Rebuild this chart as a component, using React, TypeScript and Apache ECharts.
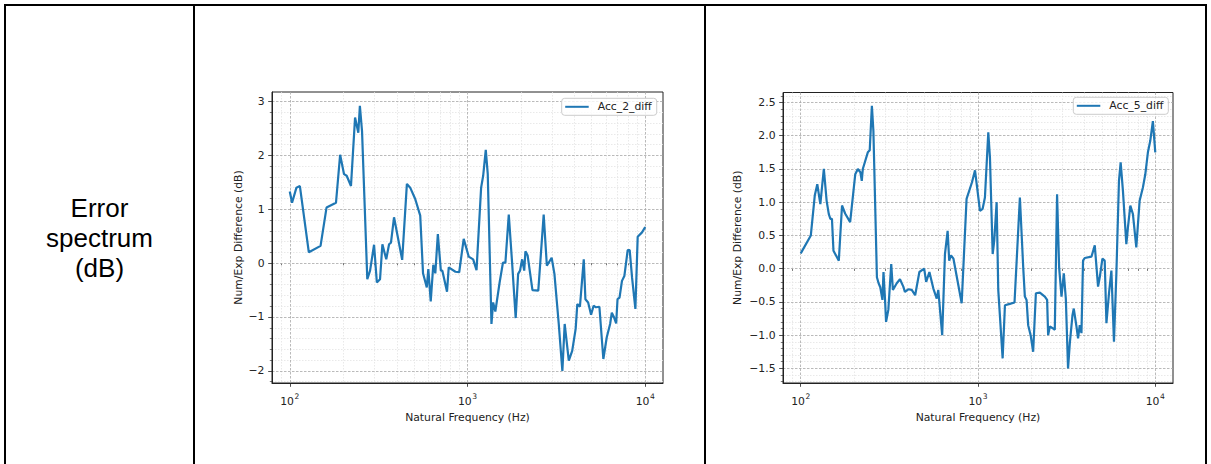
import React, { useEffect, useRef } from "react";
import * as echarts from "echarts";

// ---------- data ----------
const rowLabelLines = ["Error", "spectrum", "(dB)"];
const seriesNames = ["Acc_2_diff", "Acc_5_diff"];
const xTitle = "Natural Frequency (Hz)";
const yTitle = "Num/Exp Difference (dB)";

const xMajorTicks = [100, 1000, 10000];
const xMajorBase = ["10", "10", "10"];
const xMajorExp = ["2", "3", "4"];
const xMinorTicks = [80, 90, 200, 300, 400, 500, 600, 700, 800, 900, 2000, 3000, 4000, 5000, 6000, 7000, 8000, 9000];

const yMajorTicks2 = [-2, -1, 0, 1, 2, 3];
const yMajorLabels2 = ["−2", "−1", "0", "1", "2", "3"];
const yMinorTicks2 = [-2.2, -1.8, -1.6, -1.4, -1.2, -0.8, -0.6, -0.4, -0.2, 0.2, 0.4, 0.6, 0.8, 1.2, 1.4, 1.6, 1.8, 2.2, 2.4, 2.6, 2.8];

const yMajorTicks5 = [-1.5, -1, -0.5, 0, 0.5, 1, 1.5, 2, 2.5];
const yMajorLabels5 = ["−1.5", "−1.0", "−0.5", "0.0", "0.5", "1.0", "1.5", "2.0", "2.5"];
const yMinorTicks5 = [-1.7, -1.6, -1.4, -1.3, -1.2, -1.1, -0.9, -0.8, -0.7, -0.6, -0.4, -0.3, -0.2, -0.1, 0.1, 0.2, 0.3, 0.4, 0.6, 0.7, 0.8, 0.9, 1.1, 1.2, 1.3, 1.4, 1.6, 1.7, 1.8, 1.9, 2.1, 2.2, 2.3, 2.4, 2.6];

const freqAcc2 = [100, 103, 109, 114, 128, 149, 161, 182, 192, 202, 209, 221, 233, 243, 248, 255, 273, 283, 298, 309, 322, 332, 349, 362, 371, 386, 429, 456, 476, 508, 542, 562, 590, 602, 621, 642, 659, 681, 708, 722, 767, 784, 855, 898, 952, 1016, 1076, 1124, 1193, 1225, 1267, 1300, 1364, 1394, 1434, 1516, 1583, 1634, 1707, 1782, 1867, 1927, 1975, 2030, 2085, 2118, 2180, 2320, 2502, 2683, 2796, 2975, 3084, 3262, 3418, 3522, 3715, 3882, 4060, 4148, 4290, 4510, 4607, 4773, 4958, 5123, 5279, 5522, 5812, 6072, 6345, 6485, 6683, 6862, 6984, 7168, 7399, 7630, 7967, 8177, 8432, 8803, 9069, 9592, 10000];
const diffAcc2 = [1.33, 1.12, 1.40, 1.43, 0.20, 0.32, 1.03, 1.12, 2.01, 1.65, 1.62, 1.43, 2.70, 2.42, 2.92, 2.45, -0.30, -0.14, 0.34, -0.36, -0.30, 0.35, 0.07, 0.35, 0.38, 0.85, 0.06, 1.47, 1.40, 1.19, 0.88, -0.19, -0.45, -0.11, -0.71, -0.03, -0.19, 0.54, -0.14, -0.14, -0.53, -0.08, -0.16, -0.17, 0.45, 0.12, 0.07, -0.13, 1.40, 1.62, 2.10, 1.65, -1.13, -0.73, -0.90, -0.36, 0.01, 0.01, 0.90, 0.01, -1.02, -0.20, -0.14, 0.07, -0.14, 0.22, 0.14, -0.50, -0.51, 0.90, -0.05, 0.10, -0.20, -1.13, -2.00, -1.13, -1.81, -1.63, -1.22, -0.76, -0.81, 0.07, -0.67, -0.73, -0.96, -0.79, -0.82, -0.81, -1.78, -1.38, -1.13, -0.92, -1.01, -1.12, -0.67, -0.64, -0.33, -0.24, 0.24, 0.24, -0.27, -0.85, 0.49, 0.57, 0.67];

const freqAcc5 = [100, 114, 120, 124, 129, 135, 140, 144, 147, 150, 153, 164, 171, 178, 190, 203, 210, 217, 221, 224, 239, 245, 252, 257, 269, 275, 281, 289, 293, 299, 303, 312, 324, 331, 348, 363, 379, 387, 404, 423, 442, 467, 497, 510, 532, 560, 585, 597, 605, 628, 651, 674, 688, 704, 727, 809, 862, 925, 962, 1026, 1062, 1094, 1143, 1168, 1210, 1235, 1274, 1301, 1377, 1419, 1512, 1607, 1723, 1799, 1838, 1879, 1919, 1981, 2047, 2121, 2233, 2382, 2454, 2487, 2541, 2653, 2711, 2793, 2868, 2958, 3048, 3129, 3221, 3296, 3412, 3469, 3593, 3668, 3749, 3833, 3913, 4000, 4365, 4557, 4756, 4862, 5033, 5185, 5302, 5482, 5655, 5848, 6034, 6240, 6379, 6570, 6867, 7011, 7233, 7480, 7816, 8160, 8515, 8785, 9087, 9365, 9694, 10000];
const diffAcc5 = [0.23, 0.50, 1.10, 1.27, 0.97, 1.50, 1.02, 0.82, 0.75, 0.75, 0.27, 0.12, 0.95, 0.83, 0.70, 1.42, 1.50, 1.45, 1.32, 1.50, 1.75, 1.78, 2.45, 2.07, -0.13, -0.22, -0.28, -0.47, -0.05, -0.47, -0.80, -0.62, 0.07, -0.32, -0.22, -0.16, -0.27, -0.35, -0.31, -0.32, -0.40, -0.05, 0.00, -0.20, -0.05, -0.30, -0.45, -0.32, -0.50, -1.00, 0.22, 0.57, 0.12, 0.20, 0.15, -0.52, 1.05, 1.30, 1.48, 0.87, 0.90, 1.07, 2.05, 1.67, 0.22, 0.42, 1.00, -0.32, -1.35, -0.55, -0.53, -0.51, 1.07, 0.02, -0.42, -0.47, -0.85, -1.00, -1.25, -0.37, -0.36, -0.42, -0.47, -1.00, -0.87, -0.90, -0.92, 1.12, 0.02, -0.42, -0.07, -0.45, -1.50, -1.12, -0.70, -0.60, -0.87, -1.05, -0.85, -0.97, 0.12, 0.16, 0.18, 0.35, -0.27, -0.13, 0.15, 0.12, -0.82, -0.37, -0.03, -1.10, -0.07, 1.32, 1.60, 1.17, 0.37, 0.62, 0.95, 0.82, 0.32, 1.02, 1.22, 1.42, 1.75, 1.92, 2.22, 1.75];

// ---------- style ----------
const FONT = "'DejaVu Sans', sans-serif";
const FS = 10.8;
const INK = "#222222";
const LINE = "#1f77b4";
const X_MIN = 79.43; // 10^1.9
const X_MAX = 12589; // 10^4.1

function nearestIndex(ticks: number[], v: number) {
  let best = 0;
  for (let i = 1; i < ticks.length; i++) {
    if (Math.abs(ticks[i] - v) < Math.abs(ticks[best] - v)) best = i;
  }
  return best;
}

function panel(
  idx: number,
  freqs: number[],
  diffs: number[],
  name: string,
  yMin: number,
  yMax: number,
  yMajor: number[],
  yMajorLabels: string[],
  yMinor: number[],
  yNameGap: number
) {
  const xAxes = [
    {
      type: "log",
      logBase: 10,
      gridIndex: idx,
      position: "bottom",
      min: X_MIN,
      max: X_MAX,
      z: 0,
      axisLine: { show: false },
      axisTick: { show: true, length: 2.2, customValues: xMinorTicks, lineStyle: { color: INK, width: 0.6 } },
      axisLabel: { show: false },
      splitLine: { show: true, lineStyle: { color: "#e3e3e3", width: 0.8, type: [1.5, 1.5] } },
      minorTick: { show: false },
      minorSplitLine: { show: false },
    },
    {
      type: "log",
      logBase: 10,
      gridIndex: idx,
      position: "bottom",
      min: X_MIN,
      max: X_MAX,
      z: 1,
      name: xTitle,
      nameLocation: "middle",
      nameGap: 26,
      nameTextStyle: { fontFamily: FONT, fontSize: FS, color: INK },
      axisLine: { show: true, onZero: false, lineStyle: { color: INK, width: 1 } },
      axisTick: { show: true, length: 3.8, customValues: xMajorTicks, lineStyle: { color: INK, width: 0.8 } },
      axisLabel: {
        show: true,
        customValues: xMajorTicks,
        margin: 9,
        fontFamily: FONT,
        fontSize: FS,
        color: INK,
        formatter: (v: number) => {
          const i = nearestIndex(xMajorTicks, v);
          return "{b|" + xMajorBase[i] + "}{s|" + xMajorExp[i] + "}";
        },
        rich: {
          b: { fontFamily: FONT, fontSize: FS, color: INK, lineHeight: 15, verticalAlign: "bottom" },
          s: { fontFamily: FONT, fontSize: 7.6, color: INK, verticalAlign: "top", padding: [0, 0, 0, 0.5] },
        },
      },
      splitLine: { show: true, lineStyle: { color: "#a8a8a8", width: 0.8, type: [2.5, 1.5] } },
      minorTick: { show: false },
      minorSplitLine: { show: false },
    },
  ];
  const yAxes = [
    {
      type: "value",
      gridIndex: idx,
      position: "left",
      min: yMin,
      max: yMax,
      z: 0,
      axisLine: { show: false },
      axisTick: { show: true, length: 2.2, customValues: yMinor, lineStyle: { color: INK, width: 0.6 } },
      axisLabel: { show: false },
      splitLine: { show: true, lineStyle: { color: "#e3e3e3", width: 0.8, type: [1.5, 1.5] } },
    },
    {
      type: "value",
      gridIndex: idx,
      position: "left",
      min: yMin,
      max: yMax,
      z: 1,
      name: yTitle,
      nameLocation: "middle",
      nameGap: yNameGap,
      nameTextStyle: { fontFamily: FONT, fontSize: FS, color: INK },
      axisLine: { show: true, onZero: false, lineStyle: { color: INK, width: 1 } },
      axisTick: { show: true, length: 3.8, customValues: yMajor, lineStyle: { color: INK, width: 0.8 } },
      axisLabel: {
        show: true,
        customValues: yMajor,
        margin: 7.5,
        fontFamily: FONT,
        fontSize: FS,
        color: INK,
        formatter: (v: number) => yMajorLabels[nearestIndex(yMajor, v)],
      },
      splitLine: { show: true, lineStyle: { color: "#a8a8a8", width: 0.8, type: [2.5, 1.5] } },
    },
  ];
  const series = {
    type: "line",
    name,
    xAxisIndex: idx * 2 + 1,
    yAxisIndex: idx * 2 + 1,
    data: freqs.map((f, i) => [f, diffs[i]]),
    symbol: "none",
    showSymbol: false,
    smooth: false,
    color: LINE,
    lineStyle: { color: LINE, width: 2.2 },
    itemStyle: { color: LINE },
    z: 5,
  };
  return { xAxes, yAxes, series };
}

function legendFor(name: string, left: number, top: number) {
  return {
    data: [{ name, icon: "rect" }],
    left,
    top,
    orient: "horizontal",
    selectedMode: false,
    itemWidth: 23.5,
    itemHeight: 2,
    itemGap: 0,
    padding: [3, 5, 3, 3.5],
    backgroundColor: "rgba(255,255,255,0.8)",
    borderColor: "#cccccc",
    borderWidth: 1,
    borderRadius: 3,
    textStyle: { fontFamily: FONT, fontSize: FS, color: INK, padding: [0, 0, 0, 4] },
  };
}

export default function App() {
  const ref = useRef<HTMLDivElement>(null);

  useEffect(() => {
    if (!ref.current) return;
    const chart = echarts.init(ref.current, undefined, { renderer: "svg" });
    const p1 = panel(0, freqAcc2, diffAcc2, seriesNames[0], -2.225, 3.175, yMajorTicks2, yMajorLabels2, yMinorTicks2, 28.5);
    const p2 = panel(1, freqAcc5, diffAcc5, seriesNames[1], -1.72, 2.65, yMajorTicks5, yMajorLabels5, yMinorTicks5, 40);

    const border = { stroke: "#000000", lineWidth: 2 };
    chart.setOption({
      animation: false,
      backgroundColor: "#ffffff",
      textStyle: { fontFamily: FONT },
      grid: [
        { left: 272, top: 92, width: 391, height: 291, show: true, borderColor: INK, borderWidth: 1, backgroundColor: "transparent", containLabel: false },
        { left: 783, top: 92.5, width: 390, height: 290.5, show: true, borderColor: INK, borderWidth: 1, backgroundColor: "transparent", containLabel: false },
      ],
      xAxis: [...p1.xAxes, ...p2.xAxes],
      yAxis: [...p1.yAxes, ...p2.yAxes],
      series: [p1.series, p2.series],
      legend: [legendFor(seriesNames[0], 561.7, 98.3), legendFor(seriesNames[1], 1073.3, 97.3)],
      graphic: [
        { type: "line", shape: { x1: 4, y1: 5, x2: 1207, y2: 5 }, style: border, silent: true },
        { type: "line", shape: { x1: 5, y1: 4, x2: 5, y2: 464 }, style: border, silent: true },
        { type: "line", shape: { x1: 194, y1: 4, x2: 194, y2: 464 }, style: border, silent: true },
        { type: "line", shape: { x1: 705, y1: 4, x2: 705, y2: 464 }, style: border, silent: true },
        { type: "line", shape: { x1: 1206, y1: 4, x2: 1206, y2: 464 }, style: border, silent: true },
        {
          type: "text",
          x: 99.5,
          y: 238,
          silent: true,
          style: {
            text: rowLabelLines.join("\n"),
            fontFamily: "'Liberation Sans', Arial, sans-serif",
            fontSize: 26,
            lineHeight: 30,
            align: "center",
            verticalAlign: "middle",
            fill: "#000000",
          },
        },
      ],
    });
    return () => chart.dispose();
  }, []);

  return (
    <div
      ref={ref}
      style={{ position: "absolute", left: 0, top: 0, width: 1211, height: 464, background: "#fff" }}
    />
  );
}
